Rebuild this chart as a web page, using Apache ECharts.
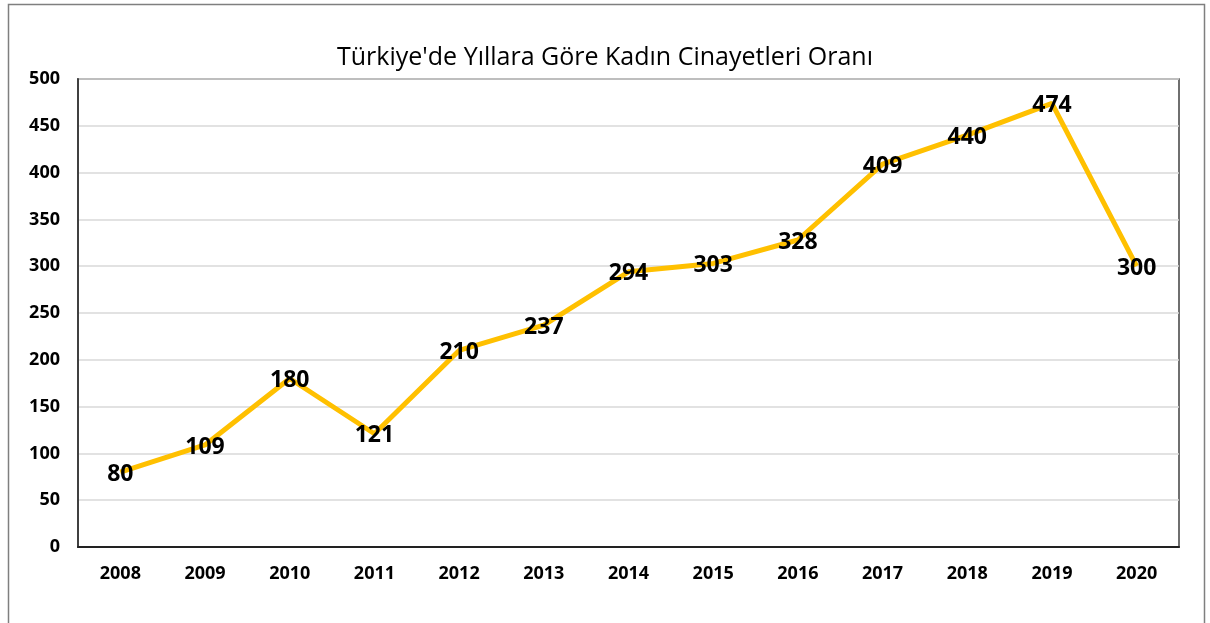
<!DOCTYPE html>
<html><head><meta charset="utf-8">
<script src="https://cdn.jsdelivr.net/npm/echarts@6/dist/echarts.min.js"></script>
<style>html,body{margin:0;padding:0;background:#fff}#c{width:1210px;height:623px}</style>
</head><body><div id="c"></div>
<script>
const years = ['2008','2009','2010','2011','2012','2013','2014','2015','2016','2017','2018','2019','2020'];
const values = [80,109,180,121,210,237,294,303,328,409,440,474,300];
const titleText = "Türkiye'de Yıllara Göre Kadın Cinayetleri Oranı";
const font = "'Open Sans', 'Noto Sans', sans-serif";
const chart = echarts.init(document.getElementById('c'), null, {renderer:'canvas'});
chart.setOption({
  animation:false,
  backgroundColor:'#fff',
  graphic:[{type:'rect',shape:{x:8.5,y:4.5,width:1196,height:640},style:{fill:'none',stroke:'#7f7f7f',lineWidth:1.5},silent:true,z:-1}],
  title:{text:titleText,left:'center',top:40,textStyle:{fontFamily:font,fontSize:25,fontWeight:'normal',color:'#000'}},
  grid:{left:78,right:31,top:79,bottom:76,show:true,borderColor:'#404040',borderWidth:1.5,backgroundColor:'transparent'},
  xAxis:{type:'category',data:years,boundaryGap:true,
    axisLine:{lineStyle:{color:'#222',width:2}},axisTick:{show:false},
    axisLabel:{fontFamily:font,fontSize:18,fontWeight:'bold',color:'#000',margin:18}},
  yAxis:{type:'value',min:0,max:500,interval:50,
    axisLine:{show:true,lineStyle:{color:'#404040',width:2}},axisTick:{show:false},
    splitLine:{lineStyle:{color:'#d9d9d9',width:1.5}},
    axisLabel:{fontFamily:font,fontSize:18,fontWeight:'bold',color:'#000',margin:18}},
  series:[{type:'line',data:values,symbol:'circle',symbolSize:1,showSymbol:true,
    lineStyle:{color:'#FFC000',width:5},itemStyle:{color:'rgba(0,0,0,0)',borderWidth:0},
    label:{show:true,position:'inside',offset:[0,2],fontFamily:font,fontSize:23,fontWeight:'bold',color:'#000'}}]
});
</script></body></html>
